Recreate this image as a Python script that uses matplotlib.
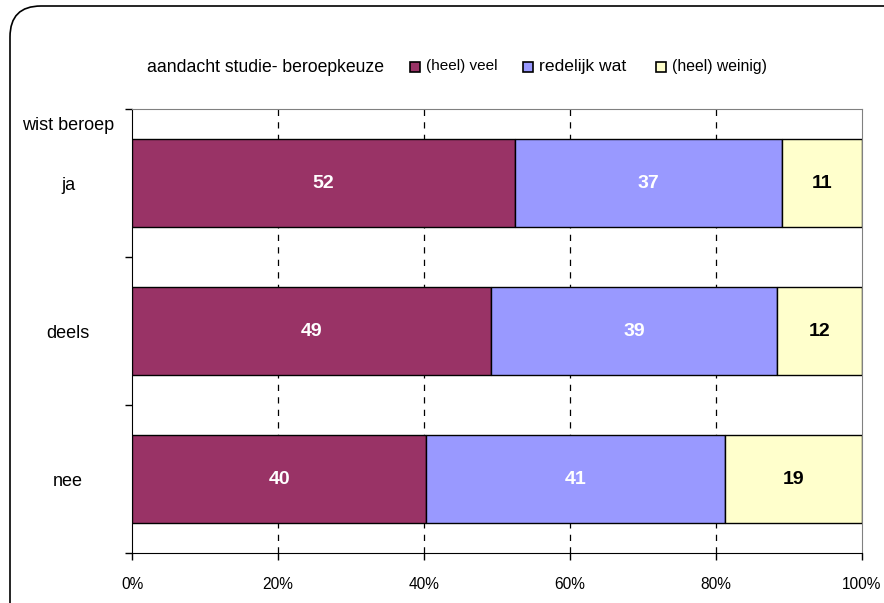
import numpy as np
import matplotlib
matplotlib.use('Agg')
import matplotlib.pyplot as plt
from matplotlib.patches import FancyBboxPatch, Rectangle

plt.rcParams['font.family'] = ['Liberation Sans', 'DejaVu Sans']

# data
categories = ['ja', 'deels', 'nee']
series_names = ['(heel) veel', 'redelijk wat', '(heel) weinig)']
veel = [52.4, 49.2, 40.3]
redelijk = [36.7, 39.2, 40.9]
weinig = [10.9, 11.6, 18.8]
x_ticks = [0, 20, 40, 60, 80, 100]
x_ticklabels = ['0%', '20%', '40%', '60%', '80%', '100%']

colors = ['#993366', '#9999FF', '#FFFFCC']
label_colors = ['white', 'white', 'black']

W, H = 884, 603
fig = plt.figure(figsize=(W / 100, H / 100), dpi=100)

# rounded frame, running off the right and bottom edge
frame = FancyBboxPatch((10 / W, -0.1), 1.3, 1 - 6 / H + 0.1,
                       boxstyle='round,pad=0,rounding_size=0.035',
                       transform=fig.transFigure, fill=False,
                       edgecolor='black', linewidth=1.2, mutation_aspect=W / H)
fig.patches.append(frame)

ax = fig.add_axes([132 / W, 1 - 553 / H, 730 / W, 444 / H])

y = np.arange(len(categories))
left = np.zeros(len(categories))
for vals, col, lcol in zip([veel, redelijk, weinig], colors, label_colors):
    vals = np.array(vals)
    bars = ax.barh(y, vals, left=left, height=0.595, color=col,
                   edgecolor='black', linewidth=1, zorder=3)
    for b, v in zip(bars, vals):
        ax.text(b.get_x() + b.get_width() / 2, b.get_y() + b.get_height() / 2,
                f'{round(v):d}', ha='center', va='center', color=lcol,
                fontsize=14, fontweight='bold', zorder=4)
    left += vals

ax.set_xlim(0, 100)
ax.set_ylim(2.5, -0.5)

for xv in x_ticks[1:-1]:
    ax.axvline(xv, color='black', linestyle=(0, (5, 5)), linewidth=0.9, zorder=1)

ax.set_xticks(x_ticks)
ax.set_xticklabels(x_ticklabels, fontsize=11.2)
ax.tick_params(axis='x', direction='out', length=5, width=1, pad=12)

ax.set_yticks(y)
ax.set_yticklabels(categories, fontsize=13)
ax.tick_params(axis='y', which='major', length=0, pad=46)
for t in ax.get_yticklabels():
    t.set_horizontalalignment('center')
ax.set_yticks(np.arange(-0.5, len(categories), 1.0), minor=True)
ax.tick_params(axis='y', which='minor', direction='out', length=5, width=1)

ax.spines['left'].set_color('black')
ax.spines['bottom'].set_color('black')
ax.spines['top'].set_color('#808080')
ax.spines['right'].set_color('#808080')

fig.text(68 / W, 1 - 126 / H, 'wist beroep', ha='center', va='center', fontsize=13)

# legend row
fig.text(147 / W, 1 - 67 / H, 'aandacht studie- beroepkeuze', ha='left', va='center', fontsize=12.7)
leg_box_x = [410, 523, 656]
leg_sizes = [11, 12.6, 11.3]
for name, col, bx, fs in zip(series_names, colors, leg_box_x, leg_sizes):
    fig.patches.append(Rectangle((bx / W, 1 - 72 / H), 10 / W, 10 / H,
                                 transform=fig.transFigure, facecolor=col,
                                 edgecolor='black', linewidth=1.2))
    fig.text((bx + 16) / W, 1 - 66 / H, name, ha='left', va='center', fontsize=fs)

fig.savefig('out.png', dpi=100)
